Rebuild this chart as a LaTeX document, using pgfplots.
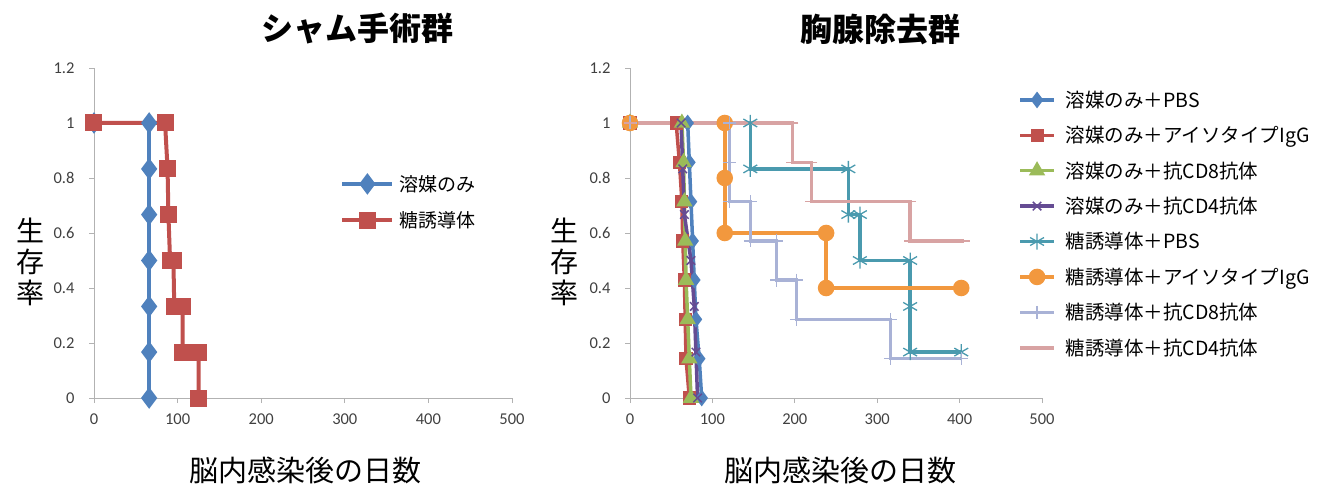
\documentclass[border=0pt]{standalone}
\usepackage{pgfplots}
\pgfplotsset{compat=1.18}
\usepackage{fontspec}
\setmainfont{Carlito}
\newfontfamily\jp{Noto Sans CJK JP}
\definecolor{c1}{HTML}{4F81BD}
\definecolor{c2}{HTML}{C0504D}
\definecolor{c3}{HTML}{9BBB59}
\definecolor{c4}{HTML}{654C93}
\definecolor{c5}{HTML}{4A9AAE}
\definecolor{c6}{HTML}{F2983E}
\definecolor{c7}{HTML}{A9B2D6}
\definecolor{c8}{HTML}{D8A3A3}
\begin{document}
\begin{tikzpicture}[font=\jp]
\useasboundingbox (0,0) rectangle (1334pt,488pt);
\pgfplotsset{
  kmstyle/.style={
    scale only axis, height=330pt,
    xmin=0,xmax=500, ymin=0,ymax=1.2,
    xtick={0,100,200,300,400,500}, ytick={0,0.2,0.4,0.6,0.8,1,1.2},
    axis x line*=bottom, axis y line*=left,
    axis line style={draw=gray!60, line width=0.8pt, -},
    tick style={draw=gray!60, line width=0.8pt},
    major tick length=5pt,
    tick align=outside,
    ticklabel style={font=\rmfamily\fontsize{16.5}{16.5}\selectfont, text=black!75},
    xticklabel style={yshift=-7pt},
    yticklabel style={xshift=-11pt},
    /pgf/number format/assume math mode=true,
    clip=false,
    xlabel={脳内感染後の日数},
    ylabel={生\\存\\率},
    ylabel style={rotate=-90, align=center, font=\jp\fontsize{28}{31}\selectfont, anchor=center},
    xlabel style={font=\jp\fontsize{29}{29}\selectfont, anchor=center},
    title style={font=\jp\bfseries\fontsize{32}{32}\selectfont, anchor=center},
    legend cell align=left,
  }
}
% ---------------- left: sham ----------------
\begin{axis}[kmstyle, width=418pt, at={(94pt,90pt)}, anchor=south west,
  title={シャム手術群}, title style={at={(axis description cs:0.63,1.1)}},
  xlabel style={at={(axis description cs:0.507,-0.218)}},
  ylabel style={at={(axis description cs:-0.153,0.412)}},
  legend style={at={(axis description cs:0.589,0.685)}, anchor=north west, draw=none, fill=none,
    font=\jp\fontsize{19}{19}\selectfont, row sep=13pt, inner sep=0pt, nodes={inner sep=3pt},
    /tikz/every odd column/.append style={column sep=2pt}},
  legend image code/.code={\draw[mark repeat=2,mark phase=2] plot coordinates {(0pt,0pt) (25pt,0pt) (50pt,0pt)};},
]
\addplot[c1, line width=4pt, mark=diamond*, mark size=7.5pt, mark options={solid}] coordinates {
 (0,1) (66,1) (66,0.833) (66,0.667) (66,0.5) (66,0.333) (66,0.167) (66,0)};
\addlegendentry{溶媒のみ}
\addplot[c2, line width=4pt, mark=square*, mark size=6.5pt, mark options={solid}] coordinates {
 (0,1) (85,1) (88,0.833) (89,0.667) (91,0.5) (95,0.5) (96,0.333) (106,0.333) (106,0.167) (125,0.167) (125,0)};
\addlegendentry{糖誘導体}
\end{axis}
% ---------------- right: thymectomy ----------------
\begin{axis}[kmstyle, width=412pt, at={(630pt,90pt)}, anchor=south west,
  title={胸腺除去群}, title style={at={(axis description cs:0.607,1.1)}},
  xlabel style={at={(axis description cs:0.512,-0.218)}},
  ylabel style={at={(axis description cs:-0.158,0.412)}},
  legend style={at={(axis description cs:0.942,0.94)}, anchor=north west, draw=none, fill=none,
    font=\jp\fontsize{19.5}{19.5}\selectfont, row sep=11.5pt, inner sep=0pt, nodes={inner sep=3pt},
    /tikz/every odd column/.append style={column sep=7pt}},
  legend image code/.code={\draw[mark repeat=2,mark phase=2] plot coordinates {(0pt,0pt) (17pt,0pt) (34pt,0pt)};},
]
\addplot[c1, line width=3.5pt, mark=diamond*, mark size=5.5pt, mark options={solid}] coordinates {
 (0,1) (70,1) (72,0.857) (74,0.714) (76,0.571) (78,0.429) (80,0.286) (84,0.143) (87,0)};
\addlegendentry{溶媒のみ＋PBS}
\addplot[c2, line width=3.5pt, mark=square*, mark size=4.8pt, mark options={solid}] coordinates {
 (0,1) (56,1) (60,0.857) (63,0.714) (64,0.571) (66,0.429) (67,0.286) (68,0.143) (72,0)};
\addlegendentry{溶媒のみ＋アイソタイプIgG}
\addplot[c3, line width=3.5pt, mark=triangle*, mark size=6pt, mark options={solid}] coordinates {
 (0,1) (63,1) (65,0.857) (66,0.714) (67,0.571) (68,0.429) (70,0.286) (72,0.143) (74,0)};
\addlegendentry{溶媒のみ＋抗CD8抗体}
\addplot[c4, line width=3.5pt, mark=x, mark size=6pt, mark options={solid, line width=1.5pt}] coordinates {
 (0,1) (62,1) (64,0.833) (66,0.667) (74,0.5) (78,0.333) (80,0.167) (82,0)};
\addlegendentry{溶媒のみ＋抗CD4抗体}
\addplot[c5, line width=3.5pt, mark=asterisk, mark size=8pt, mark options={solid, line width=1.3pt}] coordinates {
 (0,1) (146,1) (146,0.833) (265,0.833) (265,0.667) (279,0.667) (279,0.5) (340,0.5) (340,0.333) (340,0.167) (402,0.167)};
\addlegendentry{糖誘導体＋PBS}
\addplot[c6, line width=3.5pt, mark=*, mark size=6.5pt, mark options={solid}] coordinates {
 (0,1) (115,1) (115,0.8) (115,0.6) (238,0.6) (238,0.4) (402,0.4)};
\addlegendentry{糖誘導体＋アイソタイプIgG}
\addplot[c7, line width=3.5pt, mark=+, mark size=6.5pt, mark options={solid, line width=1.2pt}] coordinates {
 (0,1) (121,1) (121,0.857) (121,0.714) (146,0.714) (146,0.571) (178,0.571) (178,0.429) (202,0.429) (202,0.286) (316,0.286) (316,0.143) (402,0.143)};
\addlegendentry{糖誘導体＋抗CD8抗体}
\addplot[c8, line width=3.5pt, mark=-, mark size=6pt, mark options={solid, line width=1.5pt}] coordinates {
 (0,1) (197,1) (197,0.857) (220,0.857) (220,0.714) (340,0.714) (340,0.571) (405,0.571)};
\addlegendentry{糖誘導体＋抗CD4抗体}
\end{axis}
\end{tikzpicture}
\end{document}
